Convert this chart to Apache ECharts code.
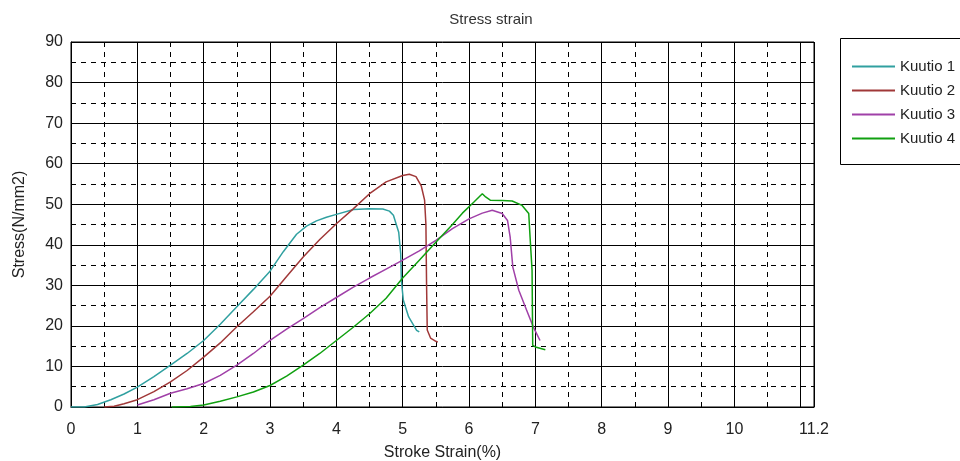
<!DOCTYPE html>
<html>
<head>
<meta charset="utf-8">
<script src="https://cdn.jsdelivr.net/npm/echarts@6/dist/echarts.min.js"></script>
<style>
html,body{margin:0;padding:0;background:#fff;}
#chart{width:960px;height:461px;}
</style>
</head>
<body>
<div id="chart"></div>
<script>
// ---- Data ----
const seriesNames = ['Kuutio 1', 'Kuutio 2', 'Kuutio 3', 'Kuutio 4'];

const k1Strain = [0, 0.2, 0.4, 0.6, 0.8, 1.0, 1.25, 1.5, 1.75, 2.0, 2.25, 2.5, 2.75, 3.0, 3.2, 3.4, 3.55, 3.7, 3.85, 4.0, 4.26, 4.5, 4.7, 4.8, 4.86, 4.94, 4.97, 4.98, 5.01, 5.09, 5.21, 5.25];
const k1Stress = [0, 0, 0.6, 1.8, 3.2, 4.9, 7.5, 10.3, 13.2, 16.4, 20.4, 24.7, 29, 33.5, 38.3, 42.6, 44.6, 45.9, 46.8, 47.5, 48.7, 48.9, 48.8, 48.3, 47.3, 43.1, 37.8, 31.2, 26.3, 22.2, 18.9, 18.5];

const k2Strain = [0.5, 0.65, 0.8, 1.0, 1.25, 1.5, 1.75, 2.0, 2.25, 2.5, 2.75, 3.0, 3.25, 3.5, 3.75, 4.0, 4.25, 4.5, 4.75, 5.0, 5.1, 5.2, 5.28, 5.33, 5.35, 5.36, 5.37, 5.42, 5.5, 5.53];
const k2Stress = [0, 0.2, 0.8, 1.8, 3.8, 6.2, 9.0, 12.3, 15.8, 19.8, 23.5, 27.3, 32.2, 37, 41.3, 45.2, 48.8, 52.6, 55.5, 57.1, 57.4, 56.8, 54.5, 51, 45, 30, 19, 17, 16.2, 16];

const k3Strain = [1.0, 1.25, 1.5, 1.75, 2.0, 2.25, 2.5, 2.75, 3.0, 3.25, 3.5, 3.75, 4.0, 4.25, 4.5, 4.75, 5.0, 5.25, 5.5, 5.75, 6.0, 6.2, 6.35, 6.5, 6.58, 6.62, 6.66, 6.75, 6.87, 6.97, 7.07];
const k3Stress = [0.5, 1.8, 3.4, 4.5, 5.8, 7.8, 10.3, 13.2, 16.4, 19.2, 21.8, 24.5, 27, 29.5, 31.8, 34, 36.2, 38.5, 41.1, 44, 46.4, 47.8, 48.5, 47.7, 46, 41.9, 34.5, 28.8, 23.8, 19.7, 16.4];

const k4Strain = [1.52, 1.8, 2.0, 2.25, 2.5, 2.75, 3.0, 3.25, 3.5, 3.75, 4.0, 4.25, 4.5, 4.75, 5.0, 5.25, 5.5, 5.75, 5.9, 6.07, 6.2, 6.25, 6.32, 6.5, 6.65, 6.8, 6.9, 6.92, 6.95, 6.96, 7.0, 7.15];
const k4Stress = [0, 0.1, 0.5, 1.4, 2.5, 3.7, 5.3, 7.6, 10.3, 13.2, 16.4, 19.6, 23, 26.8, 31.8, 36.2, 40.6, 45, 47.8, 50.5, 52.6, 51.8, 51, 50.9, 50.8, 49.7, 47.7, 41.9, 33.7, 15.2, 14.8, 14.1];

const xTickLabels = [0, 1, 2, 3, 4, 5, 6, 7, 8, 9, 10, 11.2];
const yTickLabels = [0, 10, 20, 30, 40, 50, 60, 70, 80, 90];

const colors = ['#30a0a0', '#a03838', '#a040a8', '#10a010'];

function zip(xs, ys) { return xs.map((x, i) => [x, ys[i]]); }
const allStrain = [k1Strain, k2Strain, k3Strain, k4Strain];
const allStress = [k1Stress, k2Stress, k3Stress, k4Stress];

const FONT = "'Liberation Sans', Arial, sans-serif";
const chart = echarts.init(document.getElementById('chart'), null, {renderer: 'canvas'});

chart.setOption({
  animation: false,
  color: colors,
  textStyle: {fontFamily: FONT},
  title: {
    text: 'Stress strain',
    left: 491,
    textAlign: 'center',
    top: 12,
    padding: 0,
    textStyle: {fontSize: 15, fontWeight: 'normal', color: '#333', fontFamily: FONT}
  },
  graphic: [{
    type: 'rect',
    silent: true,
    z: -1,
    shape: {x: 840.5, y: 38.5, width: 200, height: 126},
    style: {fill: 'transparent', stroke: '#000', lineWidth: 1}
  }],
  legend: {
    orient: 'vertical',
    left: 840,
    top: 38,
    padding: [21, 10, 20, 12],
    icon: 'rect',
    itemWidth: 43,
    itemHeight: 2,
    itemGap: 9,
    textStyle: {fontSize: 15, color: '#222', fontFamily: FONT, lineHeight: 14},
    data: seriesNames
  },
  grid: {
    left: 71, top: 42, width: 743, height: 365,
    outerBoundsMode: 'none',
    show: true, borderColor: '#000', borderWidth: 1, containLabel: false
  },
  xAxis: {
    type: 'value',
    min: 0, max: 11.2, interval: 1,
    name: 'Stroke Strain(%)',
    nameLocation: 'middle',
    nameGap: 38,
    nameTextStyle: {fontSize: 16, color: '#222', fontFamily: FONT},
    axisLine: {show: true, lineStyle: {color: '#000', width: 1}},
    axisTick: {show: false},
    axisLabel: {
      fontSize: 16, color: '#222', margin: 15, fontFamily: FONT,
      customValues: xTickLabels,
      formatter: v => String(v)
    },
    splitLine: {show: true, lineStyle: {color: '#000', width: 1}},
    minorTick: {show: false, splitNumber: 2},
    minorSplitLine: {show: true, lineStyle: {color: '#000', width: 1, type: [5, 5]}}
  },
  yAxis: {
    type: 'value',
    min: 0, max: 90, interval: 10,
    name: 'Stress(N/mm2)',
    nameLocation: 'middle',
    nameGap: 43,
    nameTextStyle: {fontSize: 16, color: '#222', fontFamily: FONT},
    axisLine: {show: true, lineStyle: {color: '#000', width: 1}},
    axisTick: {show: false},
    axisLabel: {
      fontSize: 16, color: '#222', margin: 8, fontFamily: FONT,
      customValues: yTickLabels
    },
    splitLine: {show: true, lineStyle: {color: '#000', width: 1}},
    minorTick: {show: false, splitNumber: 2},
    minorSplitLine: {show: true, lineStyle: {color: '#000', width: 1, type: [5, 5]}}
  },
  series: seriesNames.map((name, i) => ({
    name: name,
    type: 'line',
    data: zip(allStrain[i], allStress[i]),
    symbol: 'none',
    showSymbol: false,
    smooth: false,
    lineStyle: {width: 1.5, color: colors[i]},
    itemStyle: {color: colors[i]}
  }))
});
</script>
</body>
</html>
